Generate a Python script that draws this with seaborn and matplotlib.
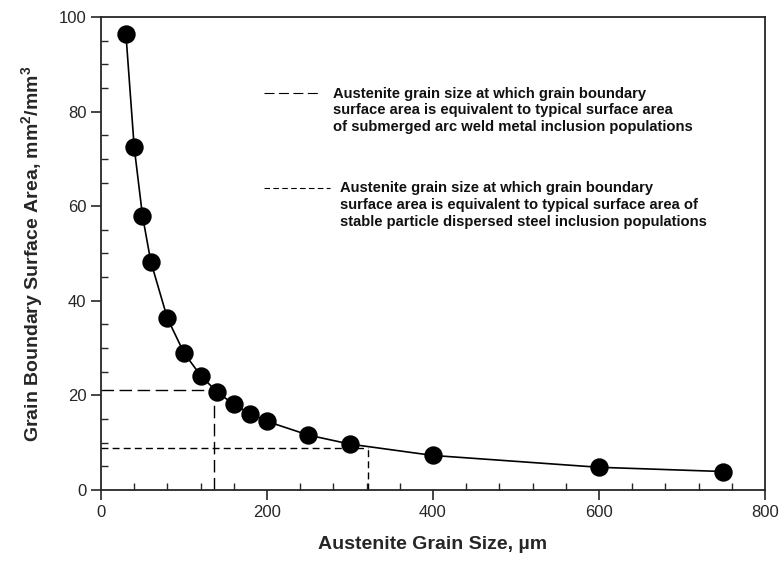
import matplotlib
matplotlib.use("Agg")
import matplotlib.pyplot as plt
from matplotlib.ticker import MultipleLocator
import seaborn as sns
import pandas as pd

# values
grain_size = [30, 40, 50, 60, 80, 100, 120, 140, 160, 180, 200, 250, 300, 400, 600, 750]
surface_area = [96.5, 72.5, 58.0, 48.3, 36.3, 29.0, 24.2, 20.7, 18.1, 16.1, 14.5, 11.6, 9.7, 7.3, 4.8, 3.9]

saw_size = 136      # submerged arc weld metal
saw_area = 21.1
spd_size = 322      # stable particle dispersed steel
spd_area = 8.9

label_saw = ("Austenite grain size at which grain boundary\n"
             "surface area is equivalent to typical surface area\n"
             "of submerged arc weld metal inclusion populations")
label_spd = ("Austenite grain size at which grain boundary\n"
             "surface area is equivalent to typical surface area of\n"
             "stable particle dispersed steel inclusion populations")

df = pd.DataFrame({"size": grain_size, "area": surface_area})

sns.set_style("ticks")
plt.rcParams["font.family"] = ["Liberation Sans", "DejaVu Sans"]
plt.rcParams["mathtext.fontset"] = "custom"
plt.rcParams["mathtext.bf"] = "Liberation Sans:bold"
plt.rcParams["mathtext.rm"] = "Liberation Sans"

fig = plt.figure(figsize=(7.81, 5.66), dpi=100)
ax = fig.add_axes([0.1293, 0.1343, 0.8502, 0.8357])

sns.lineplot(data=df, x="size", y="area", ax=ax, color="black", lw=1.2)
sns.scatterplot(data=df, x="size", y="area", ax=ax, color="black", s=150,
                edgecolor="black", zorder=5)

# construction lines
ax.plot([0, saw_size], [saw_area, saw_area], color="black", lw=1, dashes=(9, 4))
ax.plot([saw_size, saw_size], [0, saw_area], color="black", lw=1, dashes=(9, 4))
ax.plot([0, spd_size], [spd_area, spd_area], color="black", lw=1, dashes=(5, 3))
ax.plot([spd_size, spd_size], [0, spd_area], color="black", lw=1, dashes=(5, 3))

# hand-made legend
ax.plot([0.246, 0.33], [0.839, 0.839], transform=ax.transAxes, color="black",
        lw=0.8, dashes=(9, 4))
ax.text(0.349, 0.853, label_saw, transform=ax.transAxes, fontsize=10.6,
        fontweight="bold", va="top", ha="left", linespacing=1.25,
        color="#111111")
ax.plot([0.246, 0.345], [0.638, 0.638], transform=ax.transAxes, color="black",
        lw=0.8, dashes=(5, 3))
ax.text(0.36, 0.653, label_spd, transform=ax.transAxes, fontsize=10.6,
        fontweight="bold", va="top", ha="left", linespacing=1.25,
        color="#111111")

ax.set_xlim(0, 800)
ax.set_ylim(0, 100)
ax.xaxis.set_major_locator(MultipleLocator(200))
ax.xaxis.set_minor_locator(MultipleLocator(40))
ax.yaxis.set_major_locator(MultipleLocator(20))
ax.yaxis.set_minor_locator(MultipleLocator(5))
ax.tick_params(which="major", direction="out", length=7, width=1.2, labelsize=12)
ax.tick_params(which="minor", direction="in", length=5, width=1)
for sp in ax.spines.values():
    sp.set_linewidth(1.3)

ax.set_xlabel("Austenite Grain Size, µm", fontsize=14, fontweight="bold", labelpad=12)
ax.set_ylabel(r"Grain Boundary Surface Area, mm$\mathbf{^2}$/mm$\mathbf{^3}$",
              fontsize=14, fontweight="bold", labelpad=10)

fig.savefig("out.png", dpi=100)
